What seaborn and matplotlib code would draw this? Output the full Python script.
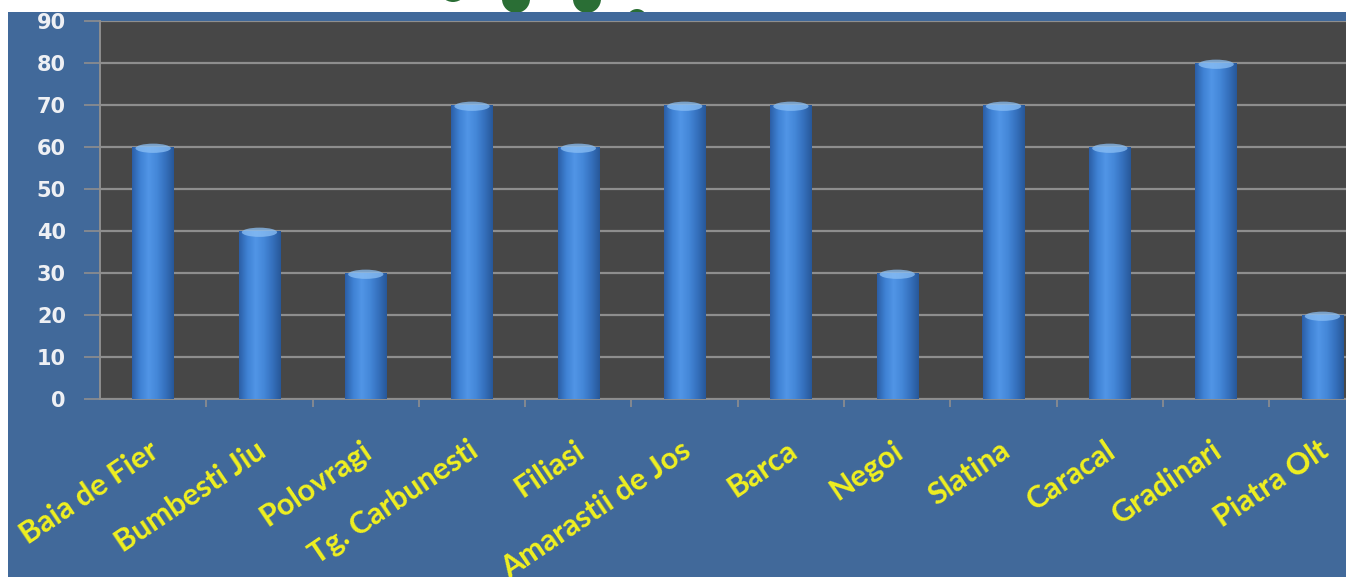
import numpy as np
import matplotlib
matplotlib.use("Agg")
import matplotlib.pyplot as plt
from matplotlib.patches import Rectangle, Ellipse
from matplotlib.colors import LinearSegmentedColormap
from matplotlib.transforms import ScaledTranslation
import seaborn as sns
import pandas as pd

categories = ["Baia de Fier", "Bumbesti Jiu", "Polovragi", "Tg. Carbunesti", "Filiasi",
              "Amarastii de Jos", "Barca", "Negoi", "Slatina", "Caracal", "Gradinari", "Piatra Olt"]
values = [60, 40, 30, 70, 60, 70, 70, 30, 70, 60, 80, 20]
y_ticks = [0, 10, 20, 30, 40, 50, 60, 70, 80, 90]

df = pd.DataFrame({"loc": categories, "val": values})

sns.set_theme(style="white")
plt.rcParams['font.family'] = ['Lato', 'DejaVu Sans']

W, H = 1346, 577
fig = plt.figure(figsize=(W / 100, H / 100), dpi=100)
fig.patch.set_facecolor("white")

# decorative green circles (slide decoration at the top)
green = "#2a6e35"
for cx, cy, r in [(453, 577 + 12, 14), (516, 577 + 1, 14), (587, 577 + 1, 14), (637, 577 - 19, 10)]:
    fig.add_artist(Ellipse((cx / W, cy / H), 2 * r / W, 2 * r / H, transform=fig.transFigure,
                           facecolor=green, edgecolor="none", zorder=0))

# blue slide background
fig.add_artist(Rectangle((8 / W, 0), 1, (H - 12) / H, transform=fig.transFigure,
                         facecolor="#41699a", edgecolor="none", zorder=1))

left_px, right_px = 100, 1375.6
top_px, bot_px = 21, 399
ax = fig.add_axes([left_px / W, (H - bot_px) / H, (right_px - left_px) / W, (bot_px - top_px) / H])
ax.set_zorder(2)
ax.set_facecolor("#474747")

sns.barplot(data=df, x="loc", y="val", ax=ax, width=0.39, color="#3f82d4", saturation=1,
            edgecolor="none", zorder=3)

# gradient fill for bars
cmap = LinearSegmentedColormap.from_list("cyl", ["#2b5ea6", "#3f82d4", "#5195e6", "#4487d8", "#3570bd", "#275798"])
grad = np.linspace(0, 1, 256).reshape(1, -1)
for p in list(ax.patches):
    x0, y0 = p.get_x(), p.get_y()
    w, h = p.get_width(), p.get_height()
    im = ax.imshow(grad, cmap=cmap, extent=[x0, x0 + w, y0, y0 + h], aspect="auto", zorder=3.1,
                   interpolation="bilinear")
    im.set_clip_path(p)
    ax.add_patch(Ellipse((x0 + w / 2, y0 + h - 0.3), w * 0.85, 2.2, facecolor="#8cc0f5",
                         edgecolor="none", alpha=0.75, zorder=3.2))

ax.set_xlim(-0.5, len(categories) - 0.5)
ax.set_ylim(0, 90)

ax.set_yticks(y_ticks)
ax.set_yticklabels([str(v) for v in y_ticks], color="#eef0f4", fontweight="bold", fontsize=15,
                   family="DejaVu Sans")
ax.yaxis.grid(True, color="#8e8e8e", linewidth=1.6)
ax.set_axisbelow(True)
ax.tick_params(axis="y", which="major", left=True, length=11.5, width=1.2, color="#8e8e8e", pad=13)

ax.set_xticks(range(len(categories)))
ax.set_xticklabels(categories, rotation=34, ha="right", va="center", rotation_mode="anchor",
                   color="#f0f020", fontweight="bold", fontsize=22)
ax.set_xticks(np.arange(0.5, len(categories) - 0.5, 1), minor=True)
ax.tick_params(axis="x", which="major", bottom=False, length=0, pad=35)
ax.tick_params(axis="x", which="minor", bottom=True, length=6, width=1.2, color="#8e8e8e")
off = ScaledTranslation(3 / 100, 0, fig.dpi_scale_trans)
for lab in ax.get_xticklabels():
    lab.set_transform(lab.get_transform() + off)
ax.set_xlabel("")
ax.set_ylabel("")

for s in ["top", "right"]:
    ax.spines[s].set_visible(False)
for s in ["left", "bottom"]:
    ax.spines[s].set_color("#8e8e8e")
    ax.spines[s].set_linewidth(1.4)

fig.savefig("out.png", dpi=100, facecolor=fig.get_facecolor())
